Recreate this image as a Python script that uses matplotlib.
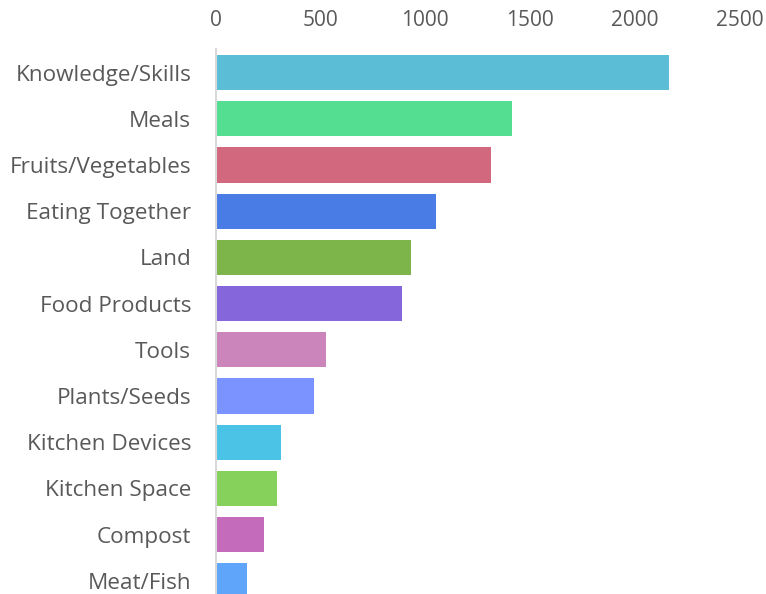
import matplotlib
matplotlib.use("Agg")
import matplotlib.pyplot as plt

categories = ["Knowledge/Skills", "Meals", "Fruits/Vegetables", "Eating Together",
              "Land", "Food Products", "Tools", "Plants/Seeds", "Kitchen Devices",
              "Kitchen Space", "Compost", "Meat/Fish"]
values = [2162, 1412, 1314, 1052, 933, 890, 529, 471, 310, 295, 233, 148]
colors = ["#5BBDD6", "#54DE92", "#D2687D", "#4A7CE6", "#7DB54A", "#8566DB",
          "#CC85BA", "#7B93FF", "#4AC3E6", "#85D15C", "#C46CBB", "#5FA6FA"]
xticks = [0, 500, 1000, 1500, 2000, 2500]

plt.rcParams['font.family'] = ['Open Sans', 'DejaVu Sans']

W, H = 766, 594
fig = plt.figure(figsize=(W / 100, H / 100), dpi=100)
left, right = 215.5, 740
top, bottom = 49.4, 604
ax = fig.add_axes([left / W, (H - bottom) / H, (right - left) / W, (bottom - top) / H])

y = list(range(len(categories)))
ax.barh(y, values, height=0.76, color=colors, zorder=2)
ax.set_ylim(len(categories) - 0.5, -0.5)
ax.set_xlim(0, 2500)
ax.set_xticks(xticks)
ax.set_xticklabels([str(t) for t in xticks])
ax.xaxis.tick_top()
ax.set_yticks(y)
ax.set_yticklabels(categories)

ax.tick_params(axis='x', length=0, pad=13.5, labelsize=15, labelcolor="#595959")
ax.tick_params(axis='y', length=0, pad=17.5, labelsize=16.2, labelcolor="#595959")

for s in ["top", "right", "bottom"]:
    ax.spines[s].set_visible(False)
ax.spines["left"].set_color("#D9D9D9")
ax.spines["left"].set_linewidth(1.5)

fig.savefig("out.png", dpi=100)
